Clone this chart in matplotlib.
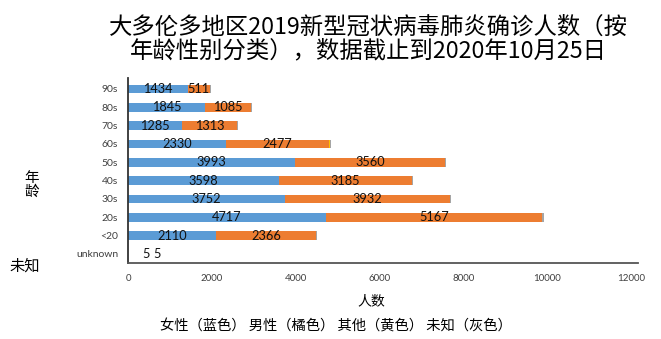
import matplotlib
matplotlib.use("Agg")
import matplotlib.pyplot as plt

plt.rcParams['font.family'] = ['Noto Sans CJK SC', 'DejaVu Sans']

categories = ["unknown", "<20", "20s", "30s", "40s", "50s", "60s", "70s", "80s", "90s"]
female = [5, 2110, 4717, 3752, 3598, 3993, 2330, 1285, 1845, 1434]
male = [5, 2366, 5167, 3932, 3185, 3560, 2477, 1313, 1085, 511]
other = [0, 2, 3, 2, 1, 2, 1, 0, 0, 0]
unknown = [0, 30, 40, 30, 20, 25, 30, 20, 25, 30]

title = "大多伦多地区2019新型冠状病毒肺炎确诊人数（按\n年龄性别分类），数据截止到2020年10月25日"
xlabel = "人数"
ylabel = "年\n龄"
legend_text = "女性（蓝色） 男性（橘色） 其他（黄色） 未知（灰色）"
side_text = "未知"
xticks = [0, 2000, 4000, 6000, 8000, 10000, 12000]

C_F = "#5B9BD5"
C_M = "#ED7D31"
C_O = "#FFC000"
C_U = "#A5A5A5"

fig = plt.figure(figsize=(6.61, 3.39), dpi=100)
ax = fig.add_axes([128/661, 1-263/339, 510/661, (263-78)/339])

y = list(range(len(categories)))
h = 0.47
left = [0]*len(y)
segs = [(female, C_F, True), (male, C_M, True), (other, C_O, False), (unknown, C_U, False)]
for vals, col, lab in segs:
    ax.barh(y, vals, left=left, height=h, color=col, edgecolor='none')
    if lab:
        for i, (l, v) in enumerate(zip(left, vals)):
            if v >= 200:
                ax.text(l + v/2, i, str(v), ha='center', va='center', fontsize=9.2,
                        family=['Lato', 'DejaVu Sans'], color='#111111')
            else:
                off = 13 if col == C_F else 21
                ax.annotate(str(v), (0, i), xytext=(off, 0), textcoords='offset points',
                            ha='center', va='center', fontsize=9.2,
                            family=['Lato', 'DejaVu Sans'], color='#111111')
    left = [a+b for a, b in zip(left, vals)]

ax.set_xlim(0, 12167)
ax.set_ylim(-0.5, 9.6)
ax.set_xticks(xticks)
ax.set_xticklabels([str(t) for t in xticks], fontsize=7, color='#404040',
                   family=['Lato', 'DejaVu Sans'])
ax.set_yticks(y)
ax.set_yticklabels(categories, fontsize=7.5, color='#404040', family=['Lato', 'DejaVu Sans'])
ax.tick_params(axis='both', length=0, pad=7)
ax.tick_params(axis='x', pad=8)
for s in ['top', 'right']:
    ax.spines[s].set_visible(False)
ax.spines['left'].set_color('#333333')
ax.spines['bottom'].set_color('#555555')
ax.spines['left'].set_linewidth(1.3)
ax.spines['bottom'].set_linewidth(1.3)

fig.text(368/661, 1-39/339, title, ha='center', va='center', fontsize=16.8, linespacing=1.0)
fig.text(371/661, 1-301/339, xlabel, ha='center', va='center', fontsize=10)
fig.text(336/661, 1-326/339, legend_text, ha='center', va='center', fontsize=10.3)
fig.text(32/661, 1-185/339, ylabel, ha='center', va='center', fontsize=10.5, linespacing=0.95)
fig.text(25/661, 1-266/339, side_text, ha='center', va='center', fontsize=11)

fig.savefig("out.png", dpi=100)
